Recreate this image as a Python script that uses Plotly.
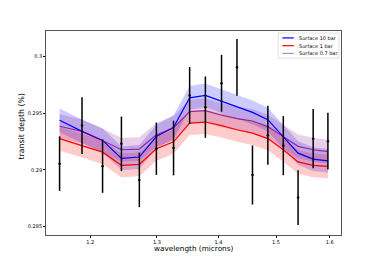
import plotly.graph_objects as go

wavelength = [1.1566, 1.1882, 1.2179, 1.2458, 1.2729, 1.2992, 1.3263, 1.3522, 1.3780,
              1.4050, 1.4313, 1.4582, 1.4854, 1.5132, 1.5403, 1.5685, 1.5965]
obs_depth = [0.29055, 0.2939, 0.29033, 0.29229, 0.28912, 0.29186, 0.29192, 0.29655, 0.29552,
             0.29762, 0.29902, 0.28955, 0.29305, 0.29213, 0.28756, 0.29275, 0.29253]
obs_err = [0.0024, 0.0025, 0.00235, 0.0024, 0.0024, 0.0023, 0.0024, 0.0025, 0.0027,
           0.0025, 0.0025, 0.0026, 0.0026, 0.0026, 0.0024, 0.0026, 0.0025]

model_10bar = [0.29436, 0.29339, 0.29259, 0.29101, 0.29113, 0.29293, 0.29375, 0.29634, 0.29655,
               0.29604, 0.29552, 0.29506, 0.29442, 0.29289, 0.29147, 0.29095, 0.29079]
model_1bar = [0.29275, 0.29213, 0.29156, 0.2904, 0.29049, 0.29186, 0.29247, 0.29412, 0.29421,
              0.2939, 0.29353, 0.29323, 0.29275, 0.29177, 0.2907, 0.2904, 0.29031]
model_07bar = [0.29384, 0.29339, 0.29259, 0.29177, 0.29183, 0.29308, 0.29369, 0.29512, 0.29522,
               0.29481, 0.29451, 0.2943, 0.29381, 0.29289, 0.29207, 0.29177, 0.29161]
band_halfwidth = 0.00105

model_names = ["Surface 10 bar", "Surface 1 bar", "Surface 0.7 bar"]

x_ticks = [1.2, 1.3, 1.4, 1.5, 1.6]
x_tick_labels = ["1.2", "1.3", "1.4", "1.5", "1.6"]
y_ticks = [0.285, 0.29, 0.295, 0.3]
y_tick_labels = ["0.285", "0.29", "0.295", "0.3"]
x_title = "wavelength (microns)"
y_title = "transit depth (%)"

fig = go.Figure()

models = [
    (model_names[0], model_10bar, "rgb(0,0,255)", "rgba(0,0,255,0.2)", "rgb(0,0,255)"),
    (model_names[1], model_1bar, "rgb(255,0,0)", "rgba(255,0,0,0.2)", "rgb(255,0,0)"),
    (model_names[2], model_07bar, "rgba(128,0,128,0.75)", "rgba(128,0,128,0.18)", "rgba(128,0,128,0.5)"),
]

for name, vals, lc, fc, _ in models:
    upper = [v + band_halfwidth for v in vals]
    lower = [v - band_halfwidth for v in vals]
    fig.add_trace(go.Scatter(
        x=wavelength + wavelength[::-1], y=upper + lower[::-1],
        fill="toself", fillcolor=fc, line=dict(width=0), mode="lines",
        hoverinfo="skip", showlegend=False))

for name, vals, lc, fc, _ in models:
    fig.add_trace(go.Scatter(
        x=wavelength, y=vals, mode="lines", name=name, showlegend=False,
        line=dict(color=lc, width=1.2)))

fig.add_trace(go.Scatter(
    x=wavelength, y=obs_depth, mode="markers", showlegend=False,
    marker=dict(color="black", size=2.5),
    error_y=dict(type="data", array=obs_err, color="black", thickness=1.5, width=0)))

# custom compact legend (matplotlib style)
shapes = [dict(type="rect", xref="paper", yref="paper", x0=0.787, x1=0.993, y0=0.867, y1=0.99,
               line=dict(color="#cccccc", width=0.6), fillcolor="rgba(255,255,255,0.85)", layer="above")]
annotations = []
legend_y = [0.966, 0.928, 0.890]
for (name, vals, lc, fc, leg_c), ly in zip(models, legend_y):
    shapes.append(dict(type="line", xref="paper", yref="paper", x0=0.801, x1=0.84, y0=ly, y1=ly,
                       line=dict(color=leg_c, width=1.2), layer="above"))
    annotations.append(dict(xref="paper", yref="paper", x=0.852, y=ly, text=name, showarrow=False,
                            xanchor="left", yanchor="middle", font=dict(size=5, color="black")))

# axis titles
annotations.append(dict(xref="paper", yref="paper", x=0.5, y=-0.066, text=x_title, showarrow=False,
                        xanchor="center", yanchor="middle", font=dict(size=7.3, color="black")))
annotations.append(dict(xref="paper", yref="paper", x=-0.084, y=0.533, text=y_title, showarrow=False,
                        textangle=-90, xanchor="center", yanchor="middle",
                        font=dict(size=7.8, color="black")))

fig.update_layout(
    width=362, height=251,
    margin=dict(l=38, r=29, t=23, b=24),
    paper_bgcolor="white", plot_bgcolor="white",
    font=dict(family="DejaVu Sans", color="black"),
    showlegend=False, shapes=shapes, annotations=annotations,
)
fig.update_xaxes(
    type="log", range=[0.0561, 0.2100], automargin=False,
    tickvals=x_ticks, ticktext=x_tick_labels, tickfont=dict(size=5),
    ticks="outside", ticklen=2, tickwidth=0.6, tickcolor="black",
    showline=True, linecolor="#555555", linewidth=0.8, mirror=True,
    showgrid=False, zeroline=False)
fig.update_yaxes(
    range=[0.28427, 0.30222], automargin=False,
    tickvals=y_ticks, ticktext=y_tick_labels, tickfont=dict(size=5),
    ticks="outside", ticklen=2, tickwidth=0.6, tickcolor="black",
    showline=True, linecolor="#555555", linewidth=0.8, mirror=True,
    showgrid=False, zeroline=False)

fig.write_html("out.html")
